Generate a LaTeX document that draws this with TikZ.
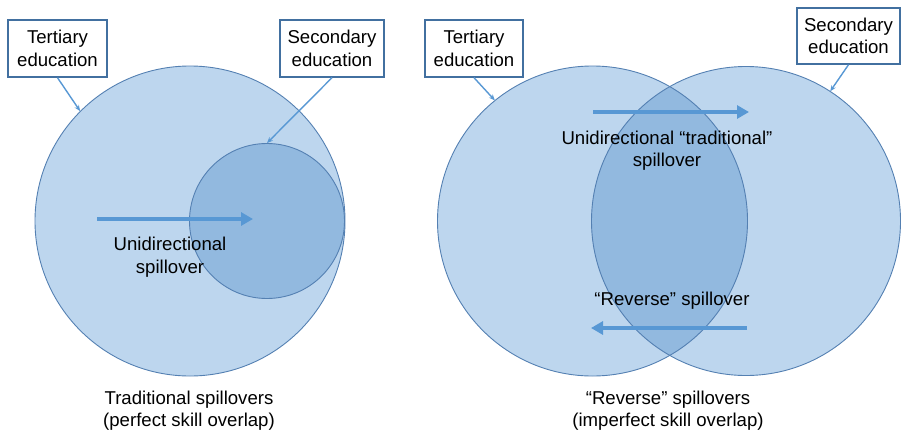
\documentclass[tikz,border=0pt]{standalone}
\usepackage{fontspec}
\setmainfont{Liberation Sans}
\usetikzlibrary{arrows.meta}
\definecolor{lightfill}{RGB}{189,214,238}
\definecolor{darkfill}{RGB}{146,185,223}
\definecolor{ringcol}{RGB}{84,128,178}
\definecolor{arrowcol}{RGB}{88,152,212}
\definecolor{boxcol}{RGB}{66,112,160}
\begin{document}
\begin{tikzpicture}[x=1pt,y=-1pt,
  lbl/.style={font=\fontsize{18.6}{22.5}\selectfont, align=center, inner sep=0pt, text=black},
  callbox/.style={draw=boxcol, line width=1.4pt, fill=white, lbl, minimum height=57pt},
  ring/.style={circle, draw=ringcol, line width=0.9pt, inner sep=0pt},
  callout/.style={draw=arrowcol, line width=1.4pt, -{Stealth[length=6pt,width=5pt]}},
  flow/.style={draw=arrowcol, line width=3.5pt, -{Triangle[length=12pt,width=13pt]}}]
\useasboundingbox (0,0) rectangle (901,431);
% ---- left panel ----
\node[ring, fill=lightfill, minimum size=310pt] (T1) at (190,221) {};
\node[ring, fill=darkfill, minimum size=155pt] (S1) at (267,221) {};
\coordinate (f1a) at (97,219);
\coordinate (f1b) at (253,219);
\draw[flow] (f1a) -- (f1b);
\node[lbl] (u1) at (170,257) {Unidirectional\\spillover};
\node[callbox, minimum width=99pt] (tb1) at (57.5,48.5) {Tertiary\\education};
\node[callbox, minimum width=104pt] (sb1) at (332,48.5) {Secondary\\education};
\draw[callout] (tb1.south) -- (T1.135);
\draw[callout] (sb1.south) -- (S1.north);
\node[lbl] (cap1) at (189,410.5) {Traditional spillovers\\(perfect skill overlap)};
% ---- right panel ----
\node[circle, fill=lightfill, minimum size=310pt, inner sep=0pt] (T2) at (592.5,221) {};
\node[circle, fill=lightfill, minimum size=309pt, inner sep=0pt] (S2) at (746,221) {};
\begin{scope}
  \clip (T2.center) circle[radius=155pt];
  \fill[darkfill] (S2.center) circle[radius=154.5pt];
\end{scope}
\draw[ringcol, line width=0.9pt] (T2.center) circle[radius=155pt];
\draw[ringcol, line width=0.9pt] (S2.center) circle[radius=154.5pt];
\coordinate (f2a) at (593,112);
\coordinate (f2b) at (749,112);
\draw[flow] (f2a) -- (f2b);
\coordinate (f3a) at (747,328);
\coordinate (f3b) at (591,328);
\draw[flow] (f3a) -- (f3b);
\node[lbl] (u2) at (667,150.5) {Unidirectional “traditional”\\spillover};
\node[lbl] (r2) at (672,301) {“Reverse” spillover};
\node[callbox, minimum width=98pt] (tb2) at (474,48.5) {Tertiary\\education};
\node[callbox, minimum width=103pt, minimum height=56pt] (sb2) at (848.5,36) {Secondary\\education};
\draw[callout] (tb2.south) -- (T2.129);
\draw[callout] (sb2.south) -- (S2.57);
\node[lbl] (cap2) at (668,410.5) {“Reverse” spillovers\\(imperfect skill overlap)};
\end{tikzpicture}
\end{document}
